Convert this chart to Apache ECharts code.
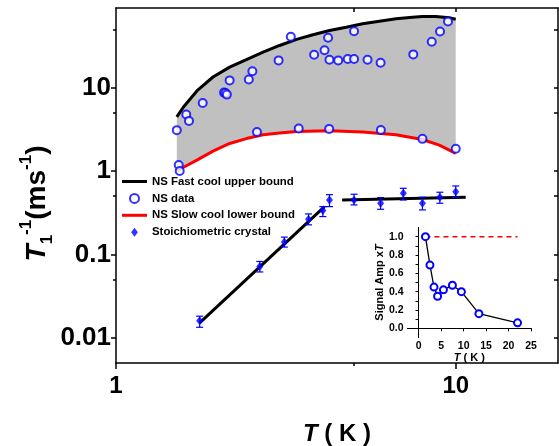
<!DOCTYPE html>
<html lang="en">
<head>
    <meta charset="UTF-8">
    <title>T1 relaxation</title>
    <script src="https://cdn.jsdelivr.net/npm/echarts@6.0.0/dist/echarts.min.js"></script>
    <style type="text/css">
        body, html {margin: 0; padding: 0; background: #fff;}
        #main {width: 559px; height: 446px;}
    </style>
</head>
<body>
<div id="main"></div>
<script type="text/javascript">
    var FONT = 'Liberation Sans, Arial, sans-serif';

    // NS fast cool upper bound (black) and slow cool lower bound (red)
    var upperT = [1.51, 1.58, 1.73, 1.93, 2.16, 2.42, 2.71, 3.03, 3.40, 3.80, 4.25, 4.76, 5.32, 5.96, 6.67, 7.46, 7.98, 8.74, 9.56, 10.0];
    var upperV = [4.45, 5.86, 9.11, 13.4, 17.6, 21.6, 26.6, 32.0, 37.8, 43.0, 48.4, 53.0, 58.2, 62.5, 66.8, 69.8, 71.2, 71.2, 68.7, 66.1];
    var lowerT = [1.51, 1.52, 1.56, 1.73, 1.93, 2.16, 2.42, 2.71, 3.03, 3.40, 4.25, 5.32, 6.67, 7.98, 8.95, 10.0];
    var lowerV = [1.0, 1.0, 1.08, 1.35, 1.73, 2.14, 2.45, 2.72, 2.86, 2.98, 3.03, 2.94, 2.72, 2.39, 2.04, 1.63];

    // NS data (open circles)
    var nsT = [1.51, 1.61, 1.64, 1.80, 2.08, 2.10, 2.12, 2.16, 2.46, 2.52, 2.60, 3.01, 3.27, 3.45, 3.83, 4.11, 4.21, 4.25, 4.24,
               4.51, 4.81, 5.02, 5.02, 5.50, 6.01, 6.02, 7.50, 7.98, 8.50, 8.99, 9.49, 10.0, 1.53, 1.54];
    var nsV = [3.09, 4.76, 3.99, 6.55, 8.71, 8.61, 8.24, 12.2, 12.5, 15.7, 2.94, 21.2, 40.7, 3.24, 24.8, 28.1, 39.6, 21.6, 3.20,
               21.2, 22.0, 22.0, 47.4, 21.6, 19.9, 3.11, 25.0, 2.43, 35.5, 47.1, 62.0, 1.85, 1.18, 1.0];

    // Stoichiometric crystal with error bars
    var stT = [1.763, 2.65, 3.13, 3.688, 4.063, 4.25, 5.02, 6.01, 7.01, 7.98, 8.98, 10.0];
    var stV = [0.0161, 0.0719, 0.1406, 0.265, 0.336, 0.450, 0.450, 0.411, 0.542, 0.411, 0.486, 0.566];
    var stLow = [0.0134, 0.0617, 0.1226, 0.2265, 0.2846, 0.3745, 0.3926, 0.348, 0.450, 0.342, 0.411, 0.485];
    var stHigh = [0.0182, 0.0824, 0.1614, 0.306, 0.3745, 0.521, 0.527, 0.480, 0.621, 0.485, 0.557, 0.662];

    // fits through the stoichiometric data
    var fitAT = [1.763, 4.11];
    var fitAV = [0.0151, 0.3745];
    var fitBT = [4.63, 10.7];
    var fitBV = [0.450, 0.485];

    // inset: signal amplitude x T
    var insetT = [1.5, 2.5, 3.4, 4.2, 5.5, 7.5, 9.5, 13.4, 22.0];
    var insetA = [1.0, 0.69, 0.45, 0.35, 0.42, 0.47, 0.40, 0.16, 0.06];
    var refT = [1.5, 22.0];
    var refA = [1.0, 1.0];

    // ticks
    var xTicks = [1, 10];
    var xMinor = [5];
    var yTicks = [0.01, 0.1, 1, 10];
    var yMinor = [0.05, 0.5, 5, 50];
    var insetXTicks = [0, 5, 10, 15, 20, 25];
    var insetYTicks = [0, 0.2, 0.4, 0.6, 0.8, 1.0];
    var insetYMinor = [0, 0.1, 0.2, 0.3, 0.4, 0.5, 0.6, 0.7, 0.8, 0.9, 1.0];

    function pairs(a, b) {
        return a.map(function (v, i) { return [v, b[i]]; });
    }

    var blank = {
        splitLine: {show: false},
        axisLine: {show: false},
        axisLabel: {show: false},
        axisTick: {show: false}
    };
    function ax(base, opt) {
        return Object.assign({}, blank, base, opt);
    }
    var mainX = {type: 'log', logBase: 10, gridIndex: 0, min: 1, max: 20};
    var mainY = {type: 'log', logBase: 10, gridIndex: 0, min: 0.005, max: 90};
    var inX = {type: 'value', gridIndex: 1, min: -2.5, max: 25};
    var inY = {type: 'value', gridIndex: 1, min: -0.1, max: 1.1};
    var black = function (w) { return {show: true, lineStyle: {color: '#000', width: w}}; };

    var xLabel = {fontSize: 24, fontWeight: 'bold', color: '#000', fontFamily: FONT};
    var yLabel = {fontSize: 26, fontWeight: 'bold', color: '#000', fontFamily: FONT};
    var smallLabel = {fontSize: 10.5, fontWeight: 'bold', color: '#000', fontFamily: FONT};

    var myChart = echarts.init(document.getElementById('main'), null, {renderer: 'canvas'});

    var option = {
        animation: false,
        backgroundColor: '#fff',
        textStyle: {fontFamily: FONT},
        grid: [
            {left: 116, top: 8, right: 1, bottom: 83, outerBoundsMode: 'none'},
            {left: 407.5, top: 227.5, width: 123.5, height: 110, show: true, backgroundColor: '#fff',
             borderWidth: 0, outerBoundsMode: 'none'}
        ],
        legend: {
            orient: 'vertical',
            left: 117,
            top: 171,
            padding: 5,
            itemWidth: 25,
            itemHeight: 9,
            itemGap: 5.9,
            symbolKeepAspect: true,
            textStyle: {fontSize: 11.4, fontWeight: 'bold', color: '#000', fontFamily: FONT},
            data: [
                {name: 'NS Fast cool upper bound', icon: 'path://M0,0H25V3H0Z'},
                {name: 'NS data'},
                {name: 'NS Slow cool lower bound', icon: 'path://M0,0H25V3H0Z'},
                {name: 'Stoichiometric crystal', icon: 'path://M3,0L6,4L3,8L0,4Z'}
            ]
        },
        xAxis: [
            ax(mainX, {
                position: 'bottom',
                axisLine: black(1.5),
                axisTick: {show: true, customValues: xTicks, length: 6, lineStyle: {color: '#000', width: 1.5}},
                axisLabel: Object.assign({show: true, customValues: xTicks, margin: 11}, xLabel),
                name: '{i|T}{n| ( K )}',
                nameLocation: 'middle',
                nameGap: 59,
                nameTextStyle: {rich: {
                    i: {fontSize: 24, fontWeight: 'bold', fontStyle: 'italic', fontFamily: FONT, color: '#000'},
                    n: {fontSize: 24, fontWeight: 'bold', fontFamily: FONT, color: '#000'}
                }}
            }),
            ax(mainX, {position: 'bottom', axisTick: {show: true, customValues: xMinor, length: 3, lineStyle: {color: '#000', width: 1.5}}}),
            ax(mainX, {position: 'top', axisLine: black(1.5),
                axisTick: {show: true, inside: true, customValues: [5, 10], length: 4, lineStyle: {color: '#000', width: 1.5}}}),
            ax(inX, {
                position: 'bottom',
                axisLine: black(1),
                axisTick: {show: true, customValues: insetXTicks, length: 3, lineStyle: {color: '#000'}},
                axisLabel: Object.assign({show: true, customValues: insetXTicks, margin: 3}, smallLabel),
                name: '{i|T}{n| ( K )}',
                nameLocation: 'middle',
                nameGap: 13,
                nameTextStyle: {rich: {
                    i: {fontSize: 11, fontWeight: 'bold', fontStyle: 'italic', fontFamily: FONT, color: '#000'},
                    n: {fontSize: 11, fontWeight: 'bold', fontFamily: FONT, color: '#000'}
                }}
            }),
            ax(inX, {position: 'top', axisLine: black(1)})
        ],
        yAxis: [
            ax(mainY, {
                position: 'left',
                axisLine: black(1.5),
                axisTick: {show: true, customValues: yTicks, length: 5, lineStyle: {color: '#000', width: 1.5}},
                axisLabel: Object.assign({show: true, customValues: yTicks, margin: 5}, yLabel),
                name: '{i|T}{sub|1}{sup|-1}{n|(ms}{sup|-1}{e|)}',
                nameLocation: 'middle',
                nameGap: 60,
                nameMoveOverlap: false,
                nameTextStyle: {rich: {
                    i: {fontSize: 28, fontWeight: 'bold', fontStyle: 'italic', fontFamily: FONT, color: '#000', lineHeight: 38},
                    n: {fontSize: 28, fontWeight: 'bold', fontFamily: FONT, color: '#000', lineHeight: 38},
                    e: {fontSize: 28, fontWeight: 'bold', fontFamily: FONT, color: '#000', lineHeight: 38, padding: [0, 36, 0, 0]},
                    sup: {fontSize: 17, fontWeight: 'bold', fontFamily: FONT, color: '#000', verticalAlign: 'top'},
                    sub: {fontSize: 17, fontWeight: 'bold', fontFamily: FONT, color: '#000', verticalAlign: 'bottom'}
                }}
            }),
            ax(mainY, {position: 'left', axisTick: {show: true, customValues: yMinor, length: 3, lineStyle: {color: '#000', width: 1.5}}}),
            ax(mainY, {position: 'right', axisLine: black(1.5),
                axisTick: {show: true, inside: true, customValues: yTicks.concat(yMinor), length: 4, lineStyle: {color: '#000', width: 1.5}}}),
            ax(inY, {
                position: 'left',
                axisLine: black(1),
                axisTick: {show: true, customValues: insetYMinor, length: 3, lineStyle: {color: '#000'}},
                axisLabel: Object.assign({show: true, customValues: insetYTicks, margin: 4,
                    formatter: function (v) { return Number(v).toFixed(1); }}, smallLabel),
                name: '{n|Signal Amp x}{i|T}',
                nameLocation: 'middle',
                nameGap: 22,
                nameTextStyle: {rich: {
                    i: {fontSize: 11, fontWeight: 'bold', fontStyle: 'italic', fontFamily: FONT, color: '#000'},
                    n: {fontSize: 11, fontWeight: 'bold', fontFamily: FONT, color: '#000'}
                }}
            }),
            ax(inY, {position: 'right', axisLine: black(1),
                axisTick: {show: true, inside: true, customValues: insetYMinor, length: 3, lineStyle: {color: '#000'}}})
        ],
        series: [
            {
                // grey band between the two bounds
                type: 'custom',
                xAxisIndex: 0, yAxisIndex: 0,
                silent: true,
                z: 1,
                data: [[upperT[0], upperV[0]]],
                renderItem: function (params, api) {
                    var pts = pairs(upperT, upperV).concat(pairs(lowerT, lowerV).reverse());
                    return {
                        type: 'polygon',
                        shape: {points: pts.map(function (p) { return api.coord(p); })},
                        style: {fill: '#c0c0c0', stroke: null}
                    };
                }
            },
            {
                name: 'NS Fast cool upper bound',
                type: 'line', xAxisIndex: 0, yAxisIndex: 0, z: 3,
                symbol: 'none',
                lineStyle: {color: '#000', width: 3},
                itemStyle: {color: '#000'},
                data: pairs(upperT, upperV)
            },
            {
                name: 'NS Slow cool lower bound',
                type: 'line', xAxisIndex: 0, yAxisIndex: 0, z: 3,
                symbol: 'none',
                lineStyle: {color: '#ff0000', width: 3},
                itemStyle: {color: '#ff0000'},
                data: pairs(lowerT.slice(1), lowerV.slice(1))
            },
            {
                name: 'NS data',
                type: 'scatter', xAxisIndex: 0, yAxisIndex: 0, z: 5,
                symbol: 'emptyCircle', symbolSize: 8,
                itemStyle: {color: '#0000ff', borderColor: '#0000ff', borderWidth: 1.2},
                data: pairs(nsT, nsV)
            },
            {
                name: 'fitA',
                type: 'line', xAxisIndex: 0, yAxisIndex: 0, z: 3,
                symbol: 'none',
                lineStyle: {color: '#000', width: 3},
                data: pairs(fitAT, fitAV)
            },
            {
                name: 'fitB',
                type: 'line', xAxisIndex: 0, yAxisIndex: 0, z: 3,
                symbol: 'none',
                lineStyle: {color: '#000', width: 3},
                data: pairs(fitBT, fitBV)
            },
            {
                // error bars
                type: 'custom',
                xAxisIndex: 0, yAxisIndex: 0, z: 4,
                silent: true,
                encode: {x: 0, y: [1, 2]},
                data: stT.map(function (t, i) { return [t, stLow[i], stHigh[i]]; }),
                renderItem: function (params, api) {
                    var lo = api.coord([api.value(0), api.value(1)]);
                    var hi = api.coord([api.value(0), api.value(2)]);
                    var w = 3.5;
                    var st = {stroke: '#0000ff', lineWidth: 1.2};
                    return {
                        type: 'group',
                        children: [
                            {type: 'line', shape: {x1: lo[0], y1: lo[1], x2: hi[0], y2: hi[1]}, style: st},
                            {type: 'line', shape: {x1: lo[0] - w, y1: lo[1], x2: lo[0] + w, y2: lo[1]}, style: st},
                            {type: 'line', shape: {x1: hi[0] - w, y1: hi[1], x2: hi[0] + w, y2: hi[1]}, style: st}
                        ]
                    };
                }
            },
            {
                name: 'Stoichiometric crystal',
                type: 'scatter', xAxisIndex: 0, yAxisIndex: 0, z: 6,
                symbol: 'diamond', symbolSize: [7, 9],
                itemStyle: {color: '#0000ff'},
                data: pairs(stT, stV)
            },
            {
                name: 'insetRef',
                type: 'line', xAxisIndex: 3, yAxisIndex: 3, z: 3,
                symbol: 'none',
                lineStyle: {color: '#ff0000', width: 1.5, type: [5, 4]},
                data: pairs(refT, refA)
            },
            {
                name: 'insetAmp',
                type: 'line', xAxisIndex: 3, yAxisIndex: 3, z: 4,
                symbol: 'emptyCircle', symbolSize: 7,
                lineStyle: {color: '#000', width: 1.3},
                itemStyle: {color: '#0000ff', borderColor: '#0000ff', borderWidth: 1.3},
                data: pairs(insetT, insetA)
            }
        ]
    };

    myChart.setOption(option);
</script>
</body>
</html>
